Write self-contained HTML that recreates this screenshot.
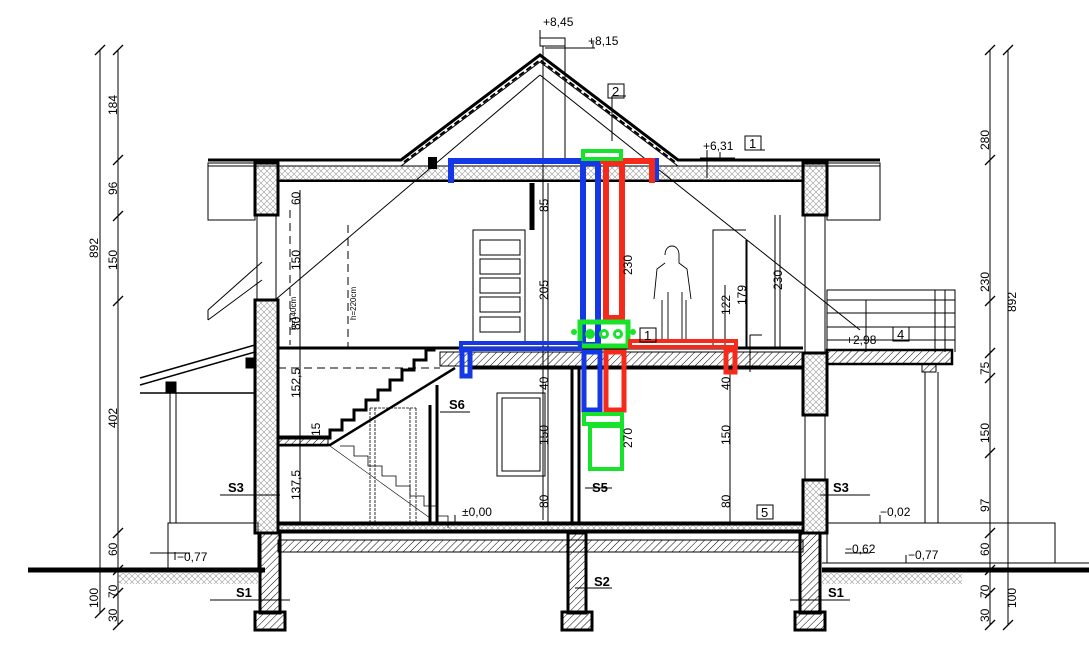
<!DOCTYPE html>
<html><head><meta charset="utf-8"><style>
html,body{margin:0;padding:0;background:#fff;width:1089px;height:651px;overflow:hidden}
svg{display:block}
text{font-family:"Liberation Sans",sans-serif;fill:#000}
</style></head><body>
<svg width="1089" height="651" viewBox="0 0 1089 651" xmlns="http://www.w3.org/2000/svg">
<defs>
<pattern id="h" width="5" height="5" patternUnits="userSpaceOnUse" patternTransform="rotate(45)"><line x1="0" y1="0" x2="0" y2="5" stroke="#000" stroke-width="1"/></pattern>
<pattern id="x" width="6" height="6" patternUnits="userSpaceOnUse"><path d="M0 0L6 6M6 0L0 6" stroke="#999" stroke-width="0.6"/></pattern>
</defs>
<g stroke="#000" fill="none" stroke-width="1">
<line x1="100" y1="50" x2="100" y2="613"/><line x1="118" y1="50" x2="118" y2="625"/>
<g stroke-width="1.3">
<path d="M95 55l10-10M95 618l10-10M113 55l10-10M113 165l10-10M113 221l10-10M113 306l10-10M113 538l10-10M113 575l10-10M113 598l10-10M113 630l10-10"/>
<path d="M985 55l10-10M1003 55l10-10M985 165l10-10M985 306l10-10M985 358l10-10M985 383l10-10M985 458l10-10M985 538l10-10M985 575l10-10M985 598l10-10M985 630l10-10M1003 630l10-10"/>
</g>
<line x1="990" y1="50" x2="990" y2="625"/><line x1="1008" y1="50" x2="1008" y2="625"/>
<line x1="28" y1="570" x2="265" y2="570" stroke-width="5"/>
<line x1="822" y1="570" x2="1089" y2="570" stroke-width="5"/>
<rect x="118" y="572" width="140" height="12" fill="url(#x)" stroke="none"/>
<rect x="822" y="572" width="140" height="12" fill="url(#x)" stroke="none"/>
<line x1="822" y1="563" x2="1089" y2="563"/>
<rect x="168" y="523" width="90" height="47"/>
<rect x="827" y="523" width="228" height="40"/>
<path d="M208 160H401L540 55L678 160H880" stroke-width="3"/>
<path d="M208 166H401L540 62L678 166H880" stroke-width="1"/>
<path d="M404 162L540 60L675 162" stroke-dasharray="6 3" stroke-width="2"/>
<rect x="278" y="166" width="525" height="14" fill="url(#x)"/>
<line x1="278" y1="181" x2="803" y2="181" stroke-width="2"/>
<path d="M540 75L275 300M540 75L860 330"/>
<rect x="208" y="163" width="47" height="57"/><rect x="827" y="163" width="53" height="57"/>
<rect x="540" y="38" width="25" height="8"/><line x1="543" y1="46" x2="543" y2="520"/><line x1="565" y1="46" x2="565" y2="160"/>
<path d="M540 30v12M545 48h50M593 48v-6M700 158h35M720 158v-6"/>
<path d="M208 310L262 262M208 320L262 280M208 310v10"/>
<path d="M140 378L255 345M140 385L255 352M140 393H255" stroke-width="1.5"/>
<rect x="166" y="382" width="10" height="10" fill="#000"/><rect x="246" y="358" width="8" height="10" fill="#000"/>
<line x1="170" y1="392" x2="170" y2="523"/><line x1="176" y1="392" x2="176" y2="523"/>
<rect x="255" y="163" width="23" height="52" stroke-width="3" fill="url(#x)"/>
<rect x="257" y="215" width="19" height="85"/>
<rect x="255" y="300" width="23" height="233" stroke-width="3" fill="url(#x)"/>
<rect x="803" y="163" width="24" height="52" stroke-width="3" fill="url(#x)"/>
<rect x="805" y="215" width="20" height="138"/>
<rect x="803" y="353" width="24" height="62" stroke-width="3" fill="url(#x)"/>
<rect x="805" y="415" width="20" height="65"/>
<rect x="803" y="480" width="24" height="53" stroke-width="3" fill="url(#x)"/>
<line x1="278" y1="348" x2="803" y2="348" stroke-width="3"/>
<rect x="440" y="352" width="363" height="14" fill="url(#h)"/>
<line x1="470" y1="368" x2="803" y2="368" stroke-width="3"/>
<rect x="827" y="350" width="125" height="14" fill="url(#h)" stroke-width="2.5"/>
<rect x="922" y="364" width="14" height="8" fill="url(#h)"/>
<line x1="925" y1="372" x2="925" y2="523"/><line x1="938" y1="372" x2="938" y2="523"/>
<path d="M827 352V290h128v62M827 300h128M827 313h128M827 327h128M827 340h128M945 290v62M935 290v62M866 300v52"/>
<line x1="278" y1="523" x2="803" y2="523" stroke-width="3"/>
<rect x="278" y="525" width="525" height="5" fill="url(#x)"/>
<line x1="278" y1="532" x2="803" y2="532" stroke-width="3"/>
<rect x="278" y="540" width="525" height="12" fill="url(#h)"/>
<rect x="260" y="533" width="20" height="80" fill="url(#h)" stroke-width="3"/>
<rect x="255" y="612" width="30" height="18" fill="url(#h)" stroke-width="3"/>
<rect x="568" y="533" width="18" height="80" fill="url(#h)" stroke-width="3"/>
<rect x="562" y="612" width="30" height="18" fill="url(#h)" stroke-width="3"/>
<rect x="800" y="533" width="20" height="80" fill="url(#h)" stroke-width="3"/>
<rect x="795" y="612" width="30" height="18" fill="url(#h)" stroke-width="3"/>
<path d="M430 405V523M437 385V523M572 368V523M579 368V523" stroke-width="3"/>
<line x1="532" y1="183" x2="532" y2="230" stroke-width="5"/>
<path d="M278 438H330v-8h12v-10h12v-10h12v-10h12v-10h12v-10h12v-10h12v-10h12v-10h8V348" stroke-width="3"/>
<path d="M278 445H330L455 368" stroke-width="2.5"/>
<rect x="278" y="436" width="50" height="10" fill="url(#h)"/>
<path d="M340 446h14v10h14v10h14v10h14v10h14v10h14v10h14v10h10v12" stroke-width="0.8"/>
<path d="M370 408V523M375 408V523M410 408V523M416 408V523M370 408h46" stroke-dasharray="3 1" stroke-width="0.8"/>
<line x1="330" y1="446" x2="430" y2="518" stroke-width="0.6"/>
<path d="M278 348H455M278 368H440" stroke-dasharray="8 5"/>
<path d="M290 210V345M348 225V348" stroke-dasharray="8 5"/>
<rect x="473" y="230" width="52" height="112"/>
<rect x="480" y="240" width="40" height="15"/><rect x="480" y="259" width="40" height="15"/><rect x="480" y="278" width="40" height="15"/><rect x="480" y="297" width="40" height="15"/><rect x="480" y="317" width="40" height="15"/>
<path d="M713 348V230h33M747 240v108M775 215V348"/>
<path d="M665 255c0-12 14-12 14 0v8l8 6 4 30M665 263l-8 6-3 30M662 300v40M686 300v40M668 292v48M682 292v48" stroke-width="0.9"/>
<rect x="497" y="393" width="48" height="83"/><rect x="502" y="398" width="38" height="73"/>
<path d="M300 190V523M548 183V523M730 368V523M746 240V348M725 285V348M780 215V348"/>
<path d="M150 553H190M175 560v-8M845 553H870M906 563v-8M880 523v-8M455 523v-8"/>
<path d="M220 495H280M820 495H870M210 600H290M790 600H850M575 588H612M440 412H470M585 488H612"/>
<path d="M750 335V372M750 335h12"/>
<path d="M707 150v28M745 150h20M612 96v45M612 96h14"/>
</g>
<g fill="none" stroke-width="6">
<path d="M451 183V161H595M606 161h50v20" stroke="#1438e6"/>
<rect x="583" y="163" width="15" height="182" stroke="#1438e6"/>
<path d="M652 183V161H600" stroke="#f52a1a"/>
<rect x="606" y="163" width="16" height="155" stroke="#f52a1a"/>
<rect x="583" y="151" width="38" height="8" stroke="#17e32a" stroke-width="4"/>
<rect x="580" y="322" width="48" height="24" stroke="#17e32a" stroke-width="5"/>
<rect x="461" y="343" width="119" height="6" stroke="#1438e6" stroke-width="4"/>
<rect x="462" y="350" width="8" height="26" stroke="#1438e6" stroke-width="5"/>
<rect x="630" y="341" width="106" height="6" stroke="#f52a1a" stroke-width="4"/>
<rect x="726" y="350" width="9" height="22" stroke="#f52a1a" stroke-width="5"/>
<rect x="584" y="352" width="16" height="58" stroke="#1438e6" stroke-width="5"/>
<rect x="606" y="352" width="18" height="58" stroke="#f52a1a" stroke-width="5"/>
<rect x="584" y="414" width="38" height="10" stroke="#17e32a" stroke-width="4"/>
<rect x="590" y="426" width="32" height="43" stroke="#17e32a" stroke-width="4"/>
</g>
<g fill="#17e32a"><circle cx="590" cy="334" r="5"/><circle cx="604" cy="334" r="5"/><circle cx="618" cy="334" r="5"/><circle cx="574" cy="332" r="3"/><circle cx="633" cy="332" r="3"/></g>
<g fill="#fff"><circle cx="604" cy="334" r="2"/><circle cx="618" cy="334" r="2"/></g>
<rect x="428" y="157" width="9" height="12" fill="#000"/>
<g font-size="12">
<text x="543" y="26">+8,45</text><text x="588" y="45">+8,15</text><text x="703" y="150">+6,31</text>
<text x="846" y="344">+2,98</text><text x="462" y="516">±0,00</text><text x="880" y="516">−0,02</text>
<text x="177" y="561">−0,77</text><text x="845" y="553">−0,62</text><text x="908" y="559">−0,77</text>
</g>
<g font-size="13" font-weight="bold">
<text x="228" y="492">S3</text><text x="833" y="492">S3</text><text x="236" y="597">S1</text><text x="828" y="597">S1</text>
<text x="594" y="586">S2</text><text x="592" y="492">S5</text><text x="449" y="409">S6</text>
</g>
<g font-size="13" fill="none" stroke="#000">
<rect x="608" y="84" width="16" height="14"/><rect x="745" y="136" width="16" height="14"/><rect x="640" y="328" width="16" height="14"/><rect x="893" y="327" width="16" height="14"/><rect x="757" y="505" width="16" height="14"/>
</g>
<g font-size="13"><text x="612" y="96">2</text><text x="749" y="148">1</text><text x="644" y="340">1</text><text x="897" y="339">4</text><text x="761" y="517">5</text></g>
<g font-size="12">
<text transform="translate(117,115) rotate(-90)">184</text>
<text transform="translate(117,195) rotate(-90)">96</text>
<text transform="translate(117,270) rotate(-90)">150</text>
<text transform="translate(117,428) rotate(-90)">402</text>
<text transform="translate(117,556) rotate(-90)">60</text>
<text transform="translate(117,598) rotate(-90)">70</text>
<text transform="translate(117,622) rotate(-90)">30</text>
<text transform="translate(98,258) rotate(-90)">892</text>
<text transform="translate(98,608) rotate(-90)">100</text>
<text transform="translate(989,150) rotate(-90)">280</text>
<text transform="translate(989,292) rotate(-90)">230</text>
<text transform="translate(989,375) rotate(-90)">75</text>
<text transform="translate(989,443) rotate(-90)">150</text>
<text transform="translate(989,512) rotate(-90)">97</text>
<text transform="translate(989,556) rotate(-90)">60</text>
<text transform="translate(989,598) rotate(-90)">70</text>
<text transform="translate(989,622) rotate(-90)">30</text>
<text transform="translate(1016,312) rotate(-90)">892</text>
<text transform="translate(1016,608) rotate(-90)">100</text>
<text transform="translate(300,205) rotate(-90)">60</text>
<text transform="translate(300,270) rotate(-90)">150</text>
<text transform="translate(300,330) rotate(-90)">80</text>
<text transform="translate(300,398) rotate(-90)">152,5</text>
<text transform="translate(300,500) rotate(-90)">137,5</text>
<text transform="translate(320,436) rotate(-90)">15</text>
<text transform="translate(548,212) rotate(-90)">85</text>
<text transform="translate(548,300) rotate(-90)">205</text>
<text transform="translate(548,390) rotate(-90)">40</text>
<text transform="translate(548,445) rotate(-90)">150</text>
<text transform="translate(548,508) rotate(-90)">80</text>
<text transform="translate(632,275) rotate(-90)">230</text>
<text transform="translate(632,448) rotate(-90)">270</text>
<text transform="translate(730,315) rotate(-90)">122</text>
<text transform="translate(746,305) rotate(-90)">179</text>
<text transform="translate(782,290) rotate(-90)">230</text>
<text transform="translate(730,390) rotate(-90)">40</text>
<text transform="translate(730,445) rotate(-90)">150</text>
<text transform="translate(730,508) rotate(-90)">80</text>
</g>
<g font-size="8"><text transform="translate(296,330) rotate(-90)">h=140cm</text><text transform="translate(356,320) rotate(-90)">h=220cm</text></g>
</svg>
</body></html>
